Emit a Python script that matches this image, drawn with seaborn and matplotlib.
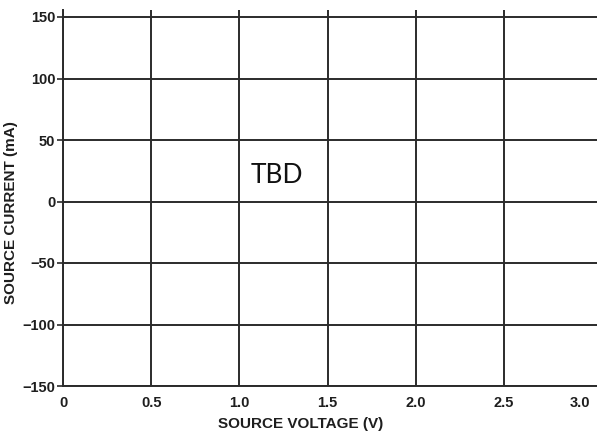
import matplotlib
matplotlib.use("Agg")
import matplotlib.pyplot as plt
import matplotlib.transforms as mtransforms
import seaborn as sns
import numpy as np

sns.set_theme(style="white")
plt.rcParams['font.family'] = ['Liberation Sans', 'DejaVu Sans']

x_ticks = [0, 0.5, 1.0, 1.5, 2.0, 2.5, 3.0]
x_labels = ['0', '0.5', '1.0', '1.5', '2.0', '2.5', '3.0']
y_ticks = [-150, -100, -50, 0, 50, 100, 150]
y_labels = ['\u2212150', '\u2212100', '\u221250', '0', '50', '100', '150']
note = 'TBD'

line_col = '#2b2b2b'
txt_col = '#1e1e1e'

# axes box in pixels: left 63, right 597 (image edge), top 10, bottom 386
L, R, T, B = 63, 597, 10, 386
fig = plt.figure(figsize=(5.97, 4.33), dpi=100)
ax = fig.add_axes([L/597, 1 - B/433, (R - L)/597, (B - T)/433])

px_per_v = (592 - 63) / 3.0
px_per_ma = (386 - 17) / 300.0
ax.set_xlim(0, (R - L) / px_per_v)
ax.set_ylim(-150, 150 + (17 - T) / px_per_ma)
ax.set_xticks(x_ticks)
ax.set_xticklabels(x_labels, fontsize=10.5, fontweight='bold', color=txt_col)
ax.set_yticks(y_ticks)
ax.set_yticklabels(y_labels, fontsize=10.5, fontweight='bold', color=txt_col)

ax.grid(True, color=line_col, linewidth=1.4)
ax.get_xgridlines()[-1].set_visible(False)
sns.despine(ax=ax, top=True, right=True)
for s in ['left', 'bottom']:
    ax.spines[s].set_color(line_col)
    ax.spines[s].set_linewidth(1.4)

ax.tick_params(axis='y', which='both', left=True, length=4.5, width=1.2, color=line_col, pad=1)
ax.tick_params(axis='x', which='both', bottom=False, length=0, pad=7)

# last x label sits a little left in the reference
last = ax.get_xticklabels()[-1]
last.set_transform(last.get_transform() + mtransforms.ScaledTranslation(-12/100, 0, fig.dpi_scale_trans))

ax.set_xlabel('SOURCE VOLTAGE (V)', fontsize=11, fontweight='bold', color=txt_col)
ax.xaxis.set_label_coords((301 - L) / (R - L), (B - 417) / (B - T))
ax.set_ylabel('SOURCE CURRENT (mA)', fontsize=11, fontweight='bold', color=txt_col)
ax.yaxis.set_label_coords((18 - L) / (R - L), (B - 213) / (B - T))

ax.text(1.066, 21, note, fontsize=19, family=['Lato', 'DejaVu Sans'], color='#111111',
        ha='left', va='center')

fig.savefig('out.png', dpi=100)
